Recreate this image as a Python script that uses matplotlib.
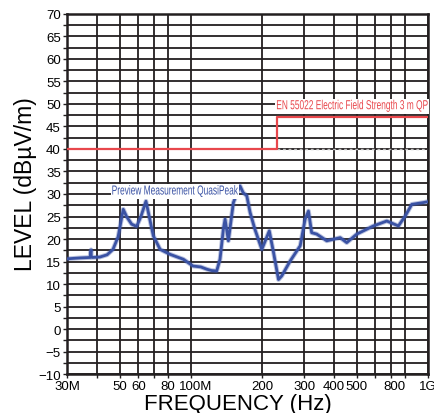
import matplotlib
matplotlib.use("Agg")
import matplotlib.pyplot as plt
from matplotlib.patheffects import AbstractPathEffect
from matplotlib.transforms import Affine2D, ScaledTranslation
from matplotlib.ticker import FixedLocator, NullFormatter, MultipleLocator

freq_mhz = [30, 34, 37.5, 37.9, 38.0, 38.3, 41.3, 44.3, 46.9, 49.3, 51.8, 53.5,
            56.2, 59.0, 61.5, 64.6, 69.4, 74.1, 81.6, 92.9, 102, 110, 116.6,
            122, 128.4, 132.6, 137, 139.3, 143.8, 151, 161, 166, 172, 177.6,
            186, 199, 214, 223, 234, 241.5, 262, 289, 303, 313, 323, 339, 374,
            426, 454, 501, 588, 670, 750, 801, 854, 956, 1000]
level = [15.6, 15.8, 15.9, 17.6, 16.0, 15.9, 16.0, 16.5, 17.7, 20.5, 26.6, 25.0,
         23.3, 22.8, 25.0, 28.4, 20.7, 17.7, 16.6, 15.5, 14.0, 13.8, 13.3,
         13.0, 12.9, 15.5, 22.2, 24.4, 19.6, 28.1, 31.8, 30.3, 29.6, 25.9,
         22.2, 17.7, 21.8, 17.0, 11.0, 11.8, 15.1, 18.5, 24.4, 26.2, 21.4, 21.1,
         19.6, 20.3, 19.2, 21.1, 22.9, 24.0, 22.9, 25.1, 27.7, 28.1, 28.3]

# EN 55022 limit line
limit_freq = [30, 230, 230, 1000]
limit_level = [40, 40, 47, 47]

grid_freqs = [30, 40, 50, 60, 70, 80, 100, 200, 300, 400, 500, 600, 700, 800, 1000]
label_freqs = [30, 50, 60, 80, 100, 200, 300, 400, 500, 800, 1000]
label_texts = ["30M", "50", "60", "80", "100M", "200", "300", "400", "500", "800", "1G"]

RED = "#e8474c"
BLUE = "#3a52a4"
DARK = "#231f20"

plt.rcParams["font.family"] = ["Liberation Sans", "DejaVu Sans"]


class Squeeze(AbstractPathEffect):
    """Narrow a text horizontally about its left edge (no narrow font installed)."""

    def __init__(self, text, sx):
        super().__init__()
        self.text = text
        self.sx = sx

    def draw_path(self, renderer, gc, tpath, affine, rgbFace=None):
        x0 = self.text.get_window_extent(renderer).x0
        squeeze = Affine2D().translate(-x0, 0).scale(self.sx, 1).translate(x0, 0)
        renderer.draw_path(gc, tpath, affine + squeeze, rgbFace)


def narrow_label(ax, x, y, s, color, sx=0.64):
    t = ax.text(x, y, s, color=color, fontsize=9.4, va="center", ha="left", zorder=6,
                bbox=dict(facecolor="white", edgecolor="none", pad=1.0))
    fx = Squeeze(t, sx)
    t.set_path_effects([fx])
    t.get_bbox_patch().set_path_effects([fx])
    return t


fig = plt.figure(figsize=(4.35, 4.14), dpi=100)
ax = fig.add_axes([0.154, 0.094, 0.830, 0.870])

ax.set_xscale("log")
ax.set_xlim(30, 1000)
ax.set_ylim(-10, 70)

ax.xaxis.set_major_locator(FixedLocator(label_freqs))
ax.set_xticklabels(label_texts)
ax.xaxis.set_minor_locator(FixedLocator([f for f in grid_freqs if f not in label_freqs]))
ax.xaxis.set_minor_formatter(NullFormatter())
ax.yaxis.set_major_locator(MultipleLocator(5))
ax.yaxis.set_minor_locator(MultipleLocator(2.5))

ax.grid(True, which="both", color=DARK, linewidth=1.3, zorder=0)
ax.set_axisbelow(True)
for s in ax.spines.values():
    s.set_linewidth(1.8)
    s.set_color(DARK)
ax.tick_params(which="both", direction="out", length=3, width=1, color=DARK,
               labelsize=9.5, pad=1.5)

# a couple of x labels sit off their tick in the original
shifts = {"100M": 5, "800": -11}
for lab in ax.get_xticklabels():
    dx = shifts.get(lab.get_text(), 0)
    if dx:
        lab.set_transform(lab.get_transform() + ScaledTranslation(dx / 100, 0, fig.dpi_scale_trans))

# limit line + dotted continuation of 40 dB
ax.plot([230, 1000], [40, 40], color="#bdbdbd", lw=1.0, ls=(0, (2, 2)), zorder=2)
ax.plot(limit_freq, limit_level, color=RED, lw=1.6, zorder=3)

# measurement trace with a soft halo for the noisy look
ax.plot(freq_mhz, level, color=BLUE, lw=3.4, alpha=0.35, zorder=4)
ax.plot(freq_mhz, level, color=BLUE, lw=2.0, zorder=5)

narrow_label(ax, 229, 49.5, "EN 55022 Electric Field Strength 3 m QP", RED)
narrow_label(ax, 46.3, 30.55, "Preview Measurement QuasiPeak", BLUE)

ax.set_xlabel("FREQUENCY (Hz)", fontsize=16)
ax.xaxis.set_label_coords(0.474, -0.083, transform=ax.transAxes)
ax.xaxis.label.set_va("center")
ax.set_ylabel("LEVEL (dBµV/m)", fontsize=16.5)
ax.yaxis.set_label_coords(-0.115, 0.530, transform=ax.transAxes)
ax.yaxis.label.set_va("center")

fig.savefig("out.png", dpi=100)
